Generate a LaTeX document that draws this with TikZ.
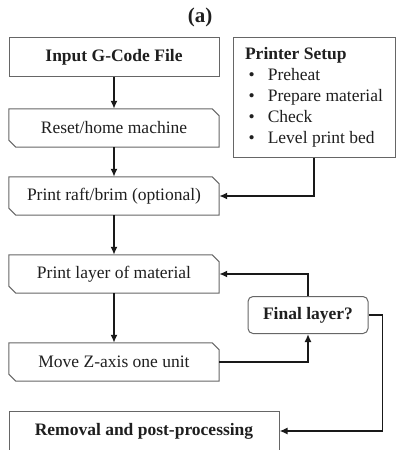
\documentclass[tikz,border=0pt]{standalone}
\usepackage{fontspec}
\setmainfont{Liberation Serif}
\usetikzlibrary{arrows.meta}
\begin{document}
\begin{tikzpicture}[x=1pt,y=-1pt]
	\colorlet{box edge}{black!60}
	\colorlet{flow line}{black!90}
	\def\chamfer#1{\draw[draw=box edge, line width=1pt]
		(#1.north west) -- ([xshift=-7pt]#1.north east)
		-- ([yshift=-7pt]#1.north east) -- (#1.south east)
		-- ([xshift=7pt]#1.south west) -- ([yshift=7pt]#1.south west) -- cycle;}
	\tikzset{every node/.style={font=\fontsize{17.5}{21}\selectfont, text=black!88},
		stepbox/.style={rectangle, inner sep=0pt, minimum width=210pt, minimum height=38pt},
		plainbox/.style={draw=box edge, line width=1pt, rectangle, inner sep=0pt,
			minimum height=39pt},
		flow/.style={draw=flow line, line width=1.8pt, -{Latex[length=8pt,width=7pt]}}}
	\useasboundingbox (0,0) rectangle (398,450);
	\node[font=\fontsize{21}{24}\selectfont] (title) at (200,17) {\textbf{(a)}};
	\node[plainbox, minimum width=210pt] (input) at (114,57) {\textbf{Input G-Code File}};
	\node[stepbox] (reset) at (114,128) {Reset/home machine};
	\node[stepbox] (raft) at (114,196) {Print raft/brim (optional)};
	\node[stepbox] (layer) at (114,274) {Print layer of material};
	\node[stepbox] (move) at (114,362) {Move Z-axis one unit};
	\node[plainbox, minimum width=270pt] (removal) at (144,431) {\textbf{Removal and post-processing}};
	\node[draw=box edge, line width=1pt, rounded corners=5pt, minimum width=120pt,
		minimum height=37pt] (final) at (308,315) {\textbf{Final layer?}};
	\node[plainbox, minimum width=162pt, minimum height=120pt, align=left] (setup) at (314,97)
		{\textbf{Printer Setup}\\
		\hspace{0.2em}\textbullet\hspace{0.75em}Preheat\\
		\hspace{0.2em}\textbullet\hspace{0.75em}Prepare material\\
		\hspace{0.2em}\textbullet\hspace{0.75em}Check\\
		\hspace{0.2em}\textbullet\hspace{0.75em}Level print bed};
	\chamfer{reset}
	\chamfer{raft}
	\chamfer{layer}
	\chamfer{move}
	\draw[flow] (input) -- (reset);
	\draw[flow] (reset) -- (raft);
	\draw[flow] (setup.south) |- (raft.east);
	\draw[flow] (raft) -- (layer);
	\draw[flow] (layer) -- (move);
	\draw[flow] (final.north) |- (layer.east);
	\draw[flow] (move.east) -| (final.south);
	\draw[flow] (final.east) -- ++(14,0) |- (removal.east);
\end{tikzpicture}
\end{document}
